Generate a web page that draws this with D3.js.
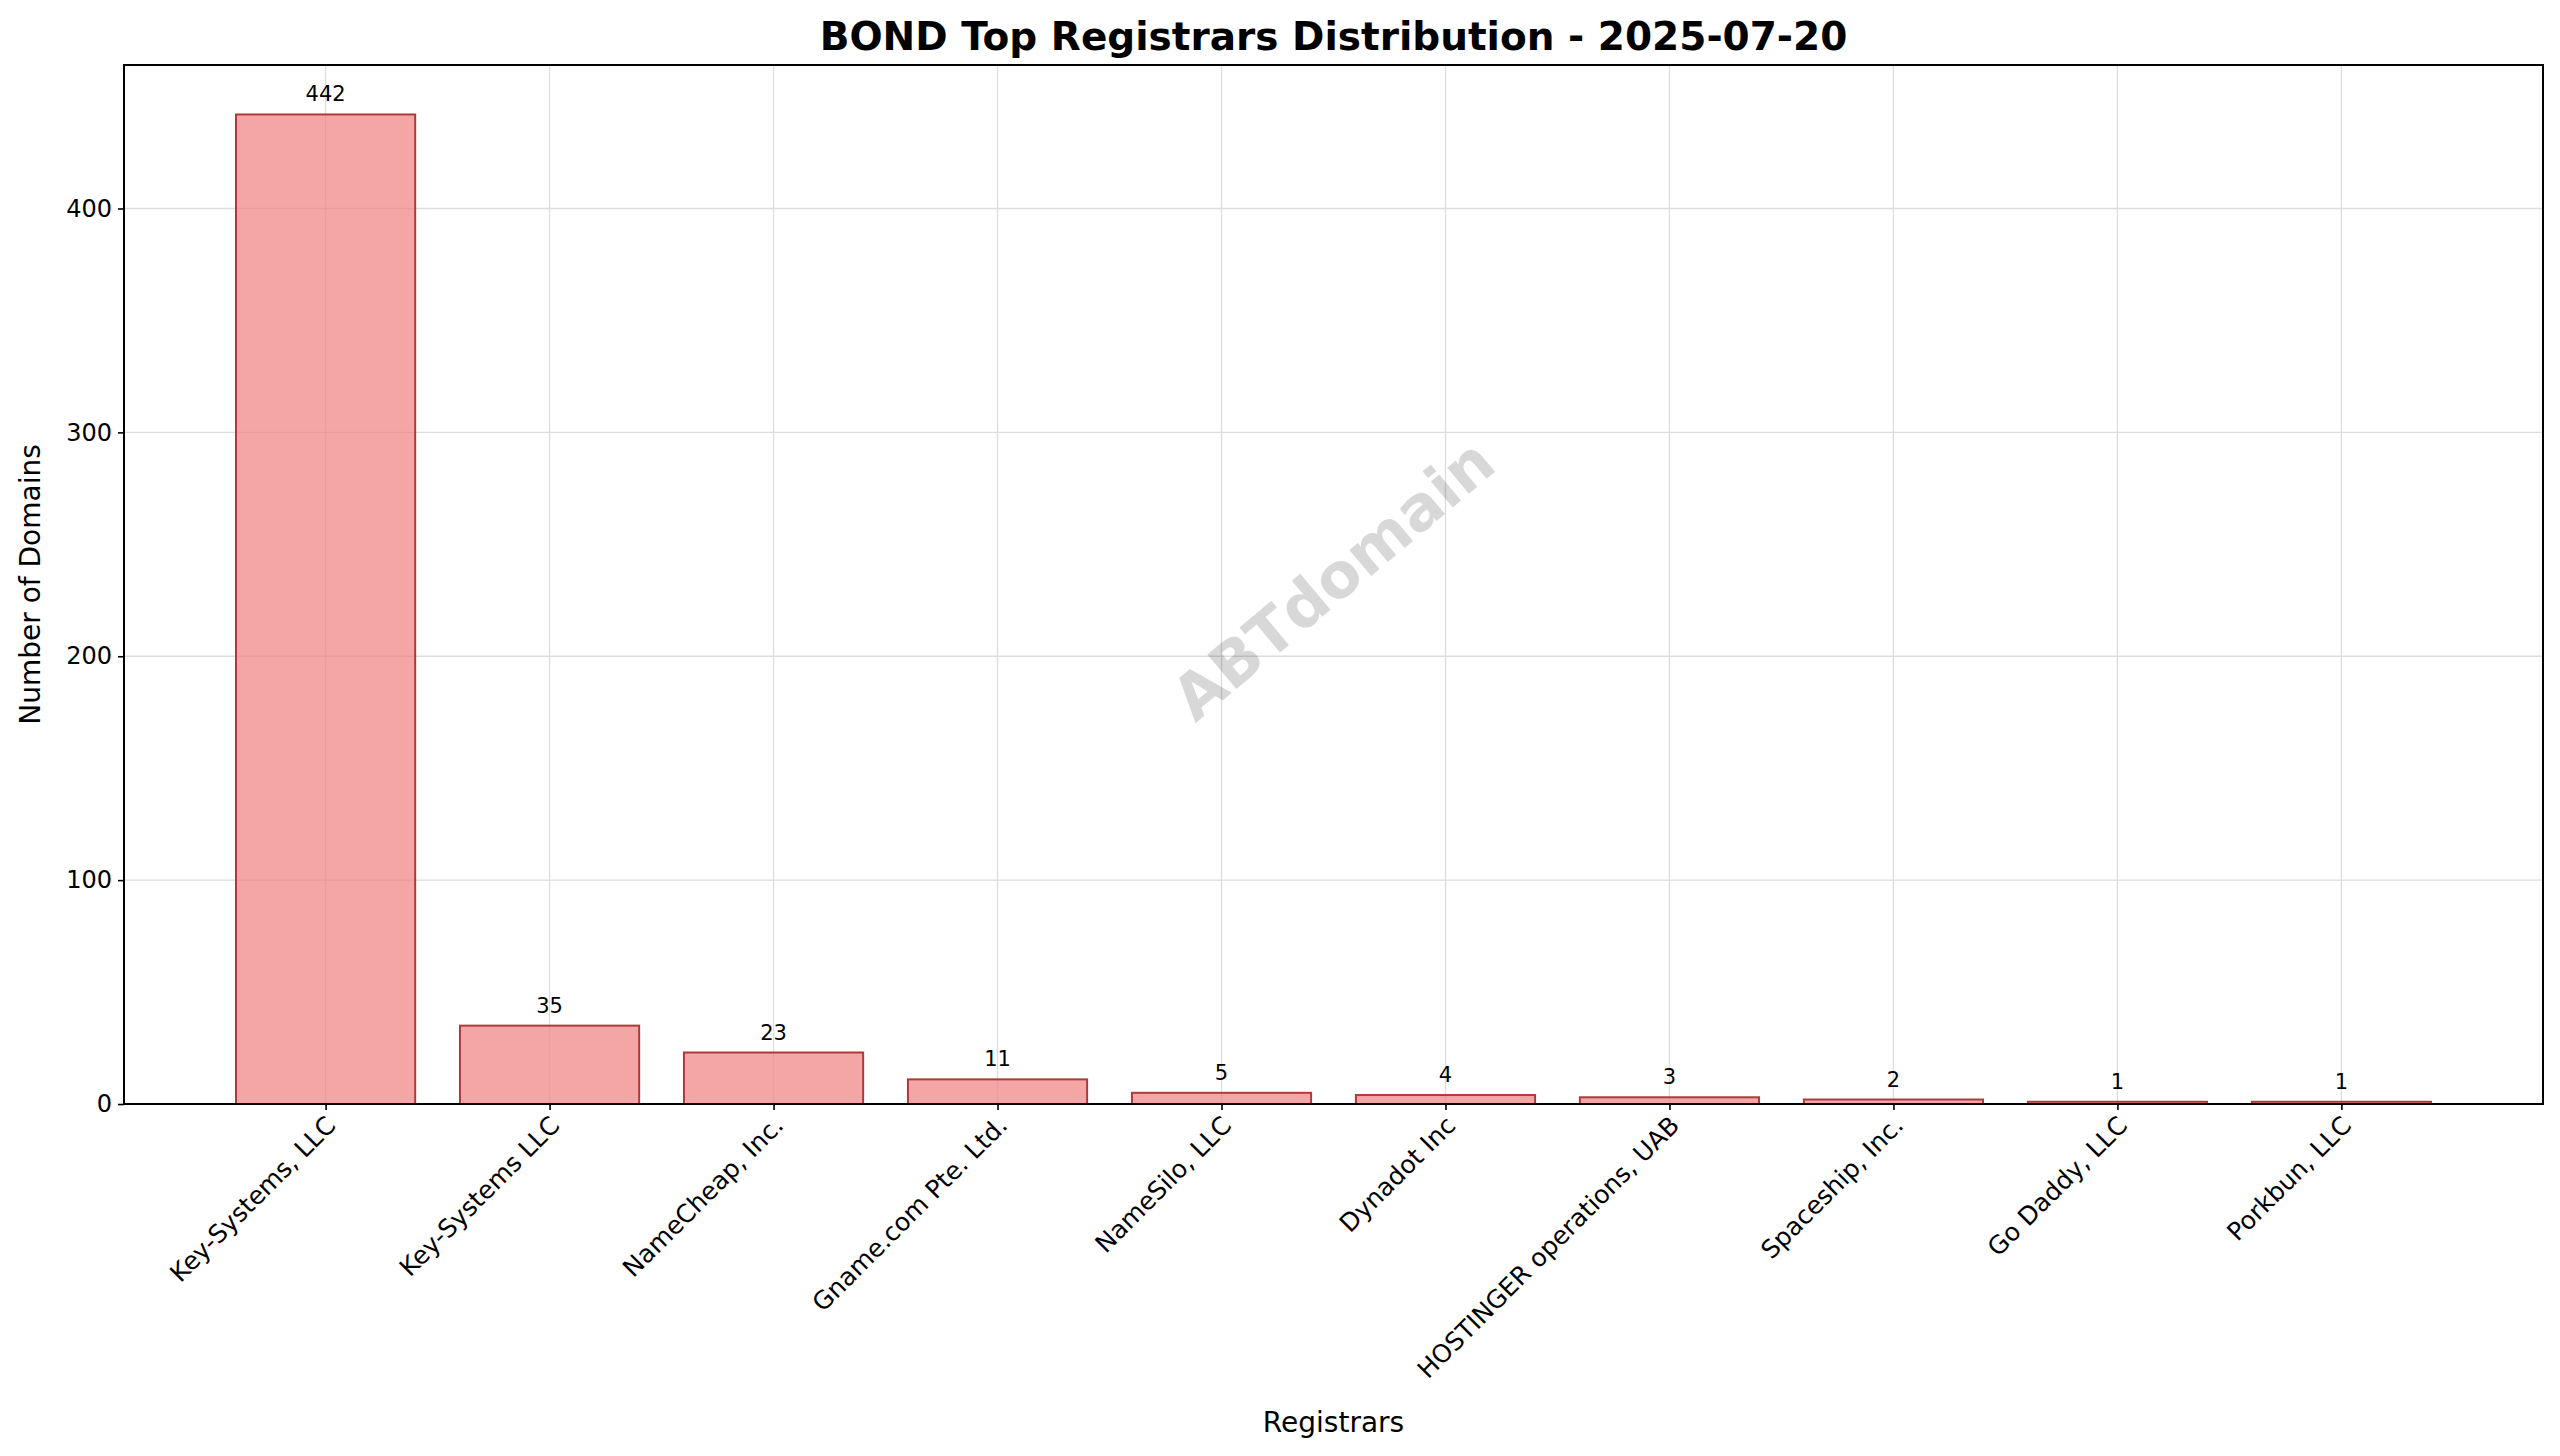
<!DOCTYPE html>
<html><head><meta charset="utf-8">
<script src="https://cdn.jsdelivr.net/npm/d3@7"></script>
<style>body{margin:0;background:#fff;font-family:"DejaVu Sans",sans-serif}</style>
</head><body>
<script>
// dati
var registrars = ["Key-Systems, LLC","Key-Systems LLC","NameCheap, Inc.","Gname.com Pte. Ltd.","NameSilo, LLC","Dynadot Inc","HOSTINGER operations, UAB","Spaceship, Inc.","Go Daddy, LLC","Porkbun, LLC"];
var counts = [442,35,23,11,5,4,3,2,1,1];
var yTicks = [0,100,200,300,400];

var W = 2560, H = 1456;
var m = {left:124, right:2543, top:65, bottom:1104};

var svg = d3.select("body").append("svg").attr("width",W).attr("height",H);

var x = d3.scaleLinear().domain([-0.9, registrars.length-0.1]).range([m.left,m.right]);
var y = d3.scaleLinear().domain([0, d3.max(counts)*1.05]).range([m.bottom,m.top]);
var bw = x(0.8)-x(0);

// griglia
svg.append("g").selectAll("line").data(yTicks).join("line")
  .attr("x1",m.left).attr("x2",m.right).attr("y1",d=>y(d)).attr("y2",d=>y(d))
  .attr("stroke","#ddd").attr("stroke-width",1.3);
svg.append("g").selectAll("line").data(d3.range(registrars.length)).join("line")
  .attr("x1",d=>x(d)).attr("x2",d=>x(d)).attr("y1",m.top).attr("y2",m.bottom)
  .attr("stroke","#ddd").attr("stroke-width",1.3);

// barre
svg.append("g").selectAll("rect").data(counts).join("rect")
  .attr("x",(d,i)=>x(i)-bw/2).attr("width",bw)
  .attr("y",d=>y(d)).attr("height",d=>m.bottom-y(d))
  .attr("fill","rgba(240,128,128,0.7)").attr("stroke","#b03a3a").attr("stroke-width",2);

// etichette valori
svg.append("g").selectAll("text").data(counts).join("text")
  .attr("x",(d,i)=>x(i)).attr("y",d=>y(d)-13)
  .attr("text-anchor","middle").attr("font-size",21).text(d=>d);

// assi
svg.append("g").attr("transform","translate("+m.left+",0)")
  .call(d3.axisLeft(y).tickValues(yTicks).tickSize(6).tickPadding(6))
  .attr("font-family","DejaVu Sans")
  .call(g=>{g.select(".domain").remove();g.selectAll("text").attr("font-size",24).attr("fill","#000");g.selectAll("line").attr("stroke-width",1.6);});
var xa = svg.append("g").attr("transform","translate(0,"+m.bottom+")")
  .call(d3.axisBottom(x).tickValues(d3.range(registrars.length)).tickFormat(i=>registrars[i]).tickSize(6))
  .attr("font-family","DejaVu Sans")
  .call(g=>g.select(".domain").remove());
xa.selectAll("line").attr("stroke-width",1.6);
xa.selectAll("text").attr("font-size",25).attr("fill","#000")
  .attr("text-anchor","end").attr("dy",null)
  .attr("transform","translate(6,18) rotate(-45)").attr("y",0).attr("x",0).attr("dominant-baseline","middle");

svg.append("rect").attr("x",m.left).attr("y",m.top).attr("width",m.right-m.left).attr("height",m.bottom-m.top)
  .attr("fill","none").attr("stroke","#000").attr("stroke-width",2);

// watermark
svg.append("text").attr("transform","translate(1336,583) rotate(-40)")
  .attr("text-anchor","middle").attr("dominant-baseline","middle")
  .attr("font-size",62).attr("font-weight","bold").attr("fill","#000").attr("opacity",0.15).text("ABTdomain");

// titoli
svg.append("text").attr("x",(m.left+m.right)/2).attr("y",50).attr("text-anchor","middle")
  .attr("font-size",39).attr("font-weight","bold").text("BOND Top Registrars Distribution - 2025-07-20");
svg.append("text").attr("x",(m.left+m.right)/2).attr("y",1432).attr("text-anchor","middle")
  .attr("font-size",28).text("Registrars");
svg.append("text").attr("transform","translate(40,"+((m.top+m.bottom)/2)+") rotate(-90)").attr("text-anchor","middle")
  .attr("font-size",28).text("Number of Domains");
</script>
</body></html>
